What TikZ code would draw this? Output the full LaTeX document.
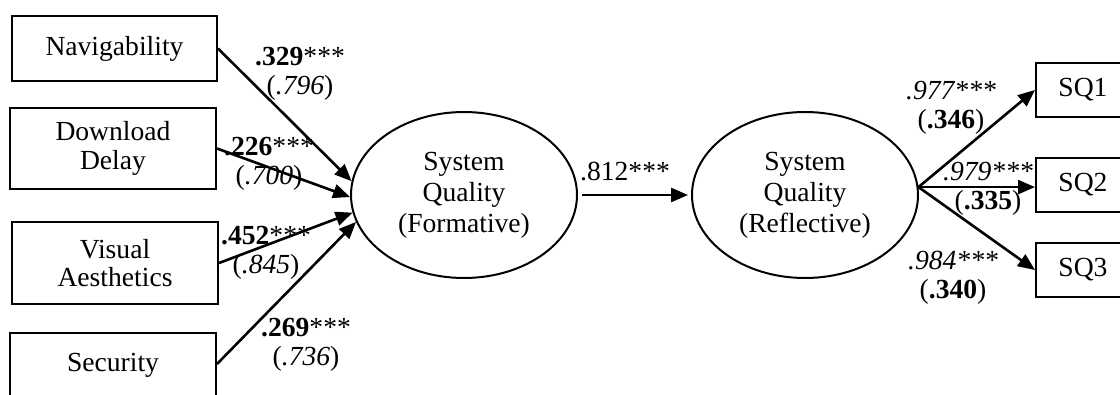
\documentclass[tikz,border=0pt]{standalone}
\usepackage{fontspec}
\setmainfont{Liberation Serif}
\usetikzlibrary{shapes.geometric,arrows.meta}
\begin{document}
\begin{tikzpicture}[x=1pt,y=-1pt,
  box/.style={draw, line width=2pt, inner sep=0pt, align=center,
    font=\fontsize{27.6}{28.5}\selectfont},
  latent/.style={draw, ellipse, line width=2pt, minimum width=226pt,
    minimum height=166pt, inner sep=0pt, align=center,
    font=\fontsize{27.6}{31}\selectfont},
  coef/.style={align=center, inner sep=0pt, font=\fontsize{27.6}{29}\selectfont},
  link/.style={line width=2.6pt, -{Triangle[length=17pt,width=14pt]}}
]
\useasboundingbox (0,0) rectangle (1120,394);
\begin{scope}
\clip (0,0) rectangle (1120,394);

% formative indicators
\node[box, minimum width=205pt, minimum height=65pt] (nav) at (114.5,48.5) {Navigability};
\node[box, minimum width=206pt, minimum height=81pt] (dd) at (113,148.5) {Download\\Delay};
\node[box, minimum width=206pt, minimum height=82pt] (va) at (115,263) {Visual\\Aesthetics};
\node[box, minimum width=206pt, text height=38pt, text depth=60pt, anchor=base] (sec) at (113,371) {Security};

% latent constructs
\node[latent] (form) at (464,195) {System\\Quality\\(Formative)};
\node[latent] (refl) at (805,195) {System\\Quality\\(Reflective)};

% reflective indicators
\node[box, minimum width=94pt, minimum height=54pt] (sq1) at (1083,90) {SQ1};
\node[box, minimum width=94pt, minimum height=54pt] (sq2) at (1083,185) {SQ2};
\node[box, minimum width=94pt, minimum height=54pt] (sq3) at (1083,270) {SQ3};

% path coefficients
\node[coef] (c1) at (300,74) {\textbf{.329}***\\(\textit{.796})};
\node[coef] (c2) at (269,164) {\textbf{.226}***\\(\textit{.700})};
\node[coef] (c3) at (266,252.5) {\textbf{.452}***\\(\textit{.845})};
\node[coef] (c4) at (306,345) {\textbf{.269}***\\(\textit{.736})};
\node[coef] (c5) at (625,172) {.812***};
\node[coef] (c6) at (951,107.5) {\textit{.977***}\\(\textbf{.346})};
\node[coef] (c7) at (988,188.5) {\textit{.979***}\\(\textbf{.335})};
\node[coef] (c8) at (953,277.5) {\textit{.984***}\\(\textbf{.340})};

% arrows
\draw[link] (nav.east) -- (form.173);
\draw[link] (dd.east) -- (form.181);
\draw[link] (va.east) -- (form.189);
\draw[link] (sec.north east) ++(0,32) -- (form.194);
\draw[link, shorten <=4pt, shorten >=3pt] (form.east) -- (refl.west);
\coordinate (fan) at (refl.4);
\draw[link] (fan) -- (sq1.west);
\draw[link] (fan) -- (fan -| sq2.west);
\draw[link] (fan) -- (sq3.west);
\end{scope}
\end{tikzpicture}
\end{document}
